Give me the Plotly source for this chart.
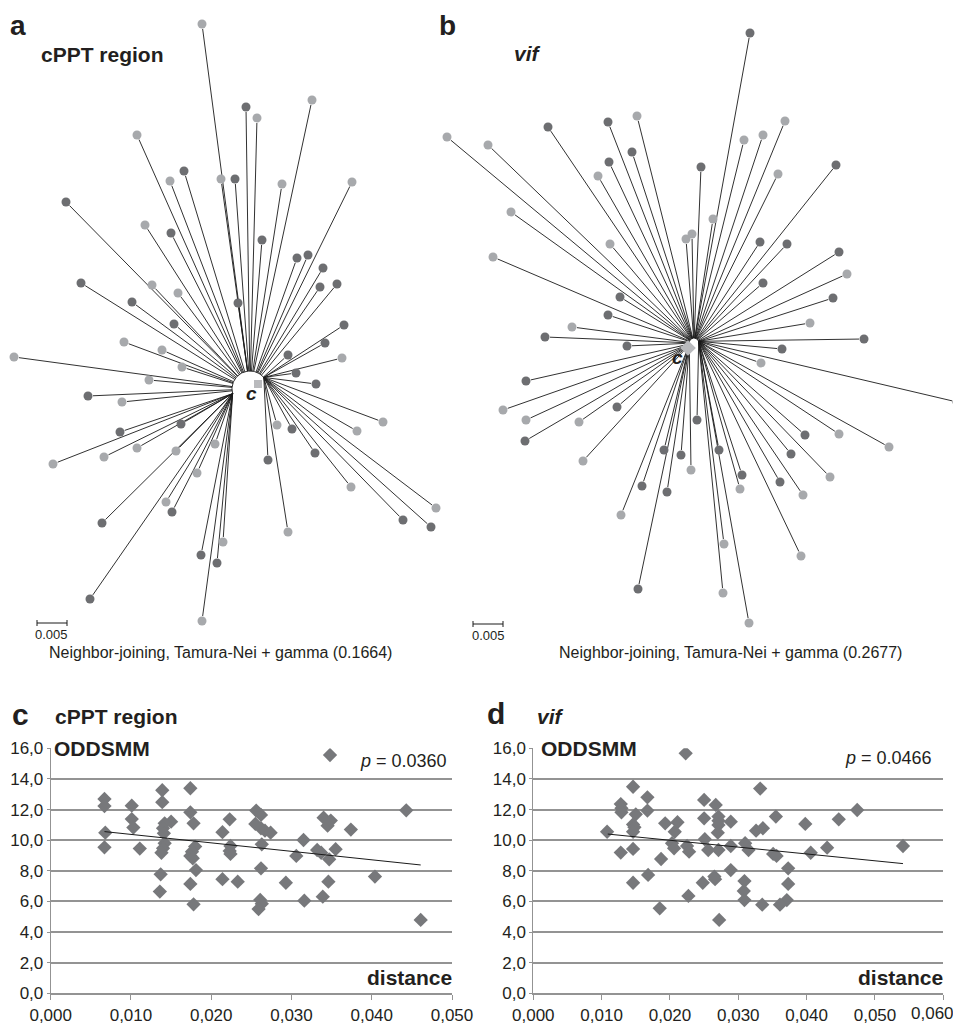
import numpy as np
import plotly.graph_objects as go

# the page body adds an 8 px margin, so the figure is drawn 8 px in from the corner
OFF = 8
W, H = 961, 1023

# ---------------- data ----------------
# Unrooted NJ trees: tip positions in the tree layout space
# (scale bar of 0.005 substitutions/site = 30 layout units)
scale_bar_value = 0.005
layout_units_per_distance = 6000

tree_a_x = [202, 246, 257, 312, 137, 184, 170, 221, 235, 282,
            352, 66, 145, 171, 262, 297, 308, 323, 320, 337,
            81, 152, 178, 132, 238, 174, 344, 124, 162, 325,
            14, 182, 288, 342, 149, 296, 316, 88, 122, 383,
            277, 292, 357, 181, 120, 137, 104, 176, 215, 53,
            315, 268, 197, 351, 166, 172, 436, 403, 431, 102,
            288, 223, 201, 217, 90, 202]
tree_a_y = [24, 107, 118, 100, 135, 171, 181, 179, 179, 184,
            182, 202, 225, 233, 240, 258, 255, 268, 287, 284,
            283, 285, 293, 302, 303, 324, 325, 342, 350, 343,
            357, 367, 355, 358, 380, 373, 384, 396, 402, 422,
            425, 429, 431, 424, 432, 448, 457, 451, 444, 464,
            453, 460, 473, 487, 502, 512, 508, 520, 527, 523,
            532, 542, 555, 563, 599, 621]
tree_a_shade = ("LDLLLDLLDL" "LDLDDDDDDD" "DLLDDDDLLD" "LLDLLDDDLL"
                "LDLDDLLLLL" "DDLLLDLDDD" "LLDDDL")
tree_a_consensus = (258, 384)

tree_b_x = [750, 447, 488, 548, 608, 637, 632, 609, 598, 701,
            744, 763, 785, 836, 778, 511, 610, 493, 713, 686,
            692, 760, 787, 839, 847, 763, 833, 620, 608, 572,
            810, 545, 627, 864, 782, 761, 526, 957, 503, 526,
            617, 579, 697, 525, 805, 839, 889, 664, 681, 719,
            583, 691, 791, 742, 830, 740, 780, 803, 642, 667,
            621, 724, 801, 638, 723, 749]
tree_b_y = [33, 137, 145, 127, 122, 116, 152, 162, 176, 167,
            140, 135, 121, 165, 174, 212, 244, 257, 219, 239,
            234, 242, 244, 252, 274, 283, 298, 297, 315, 327,
            323, 337, 346, 339, 349, 363, 381, 402, 410, 420,
            407, 422, 420, 441, 435, 434, 447, 450, 455, 450,
            461, 470, 454, 475, 477, 489, 482, 495, 486, 492,
            515, 544, 556, 589, 593, 623]
tree_b_shade = ("DLLDDLDDLD" "LLLDLLLLLL" "LDDDLDDDDL" "LDDDDLDDLL"
                "DLDDDLLDDD" "LLDDLLDLDD" "LLLDLL")
tree_b_consensus = (688, 348)

# Scatter c: cPPT region
c_dist = [0.0067, 0.0067, 0.0068, 0.0067, 0.0101, 0.0101, 0.0103, 0.0111, 0.0139, 0.0139,
          0.0150, 0.0142, 0.0140, 0.0141, 0.0142, 0.0140, 0.0138, 0.0137, 0.0136, 0.0174,
          0.0174, 0.0178, 0.0180, 0.0176, 0.0174, 0.0177, 0.0181, 0.0174, 0.0178, 0.0214,
          0.0223, 0.0224, 0.0223, 0.0224, 0.0214, 0.0233, 0.0256, 0.0262, 0.0255, 0.0262,
          0.0267, 0.0274, 0.0263, 0.0262, 0.0261, 0.0263, 0.0259, 0.0293, 0.0306, 0.0315,
          0.0316, 0.0332, 0.0337, 0.0339, 0.0340, 0.0345, 0.0349, 0.0347, 0.0346, 0.0355,
          0.0348, 0.0374, 0.0404, 0.0443, 0.0461]
c_odds = [12.69, 12.23, 10.49, 9.53, 12.25, 11.38, 10.82, 9.45, 13.26, 12.48,
          11.21, 11.10, 10.78, 10.45, 9.80, 9.47, 9.18, 7.77, 6.64, 13.39,
          11.82, 11.10, 9.58, 9.25, 8.97, 8.82, 8.05, 7.14, 5.81, 10.52,
          11.36, 9.62, 9.30, 9.10, 7.45, 7.29, 11.93, 11.65, 11.06, 10.78,
          10.62, 10.49, 9.73, 8.16, 6.10, 5.85, 5.50, 7.22, 8.97, 10.01,
          6.05, 9.36, 9.18, 6.31, 11.47, 10.95, 11.28, 8.75, 7.29, 9.41,
          15.56, 10.69, 7.62, 11.95, 4.79]
c_trend_x = [0.0067, 0.0461]
c_trend_y = [10.56, 8.38]
c_p = "0.0360"

# Scatter d: vif
d_dist = [0.0108, 0.0128, 0.0129, 0.0129, 0.0128, 0.0146, 0.0150, 0.0146, 0.0148, 0.0146,
          0.0146, 0.0146, 0.0167, 0.0167, 0.0168, 0.0187, 0.0185, 0.0193, 0.0211, 0.0207,
          0.0203, 0.0206, 0.0225, 0.0228, 0.0227, 0.0223, 0.0250, 0.0250, 0.0251, 0.0256,
          0.0248, 0.0267, 0.0271, 0.0271, 0.0271, 0.0270, 0.0271, 0.0289, 0.0289, 0.0265,
          0.0266, 0.0289, 0.0272, 0.0310, 0.0315, 0.0309, 0.0308, 0.0309, 0.0326, 0.0336,
          0.0332, 0.0335, 0.0355, 0.0351, 0.0356, 0.0373, 0.0373, 0.0371, 0.0361, 0.0398,
          0.0406, 0.0430, 0.0447, 0.0474, 0.0541]
d_odds = [10.55, 12.36, 12.08, 11.82, 9.19, 13.49, 11.69, 11.03, 10.84, 10.55,
          9.43, 7.22, 12.80, 11.93, 7.73, 8.77, 5.55, 11.10, 11.17, 10.55,
          9.80, 9.47, 9.62, 9.25, 6.36, 15.67, 12.63, 11.43, 10.06, 9.36,
          7.22, 12.30, 11.54, 11.27, 10.99, 10.49, 9.36, 11.21, 9.62, 7.62,
          7.45, 8.05, 4.79, 9.80, 9.36, 7.33, 6.68, 6.09, 10.62, 10.78,
          13.37, 5.79, 11.54, 9.10, 8.97, 8.16, 7.14, 6.09, 5.79, 11.06,
          9.18, 9.51, 11.36, 11.97, 9.62]
d_trend_x = [0.0109, 0.0541]
d_trend_y = [10.40, 8.47]
d_p = "0.0466"

x_ticks_c = [0, 0.01, 0.02, 0.03, 0.04, 0.05]
x_ticks_d = [0, 0.01, 0.02, 0.03, 0.04, 0.05, 0.06]
y_ticks = [0, 2, 4, 6, 8, 10, 12, 14, 16]

# ---------------- style ----------------
FONT = "Liberation Sans"
TXT = "#231f20"
DARK = "#6d6e71"
LIGHT = "#a7a9ac"
DIAM = "#77787b"
GRID = "#939393"


def px(x):
    return (x - OFF) / W


def py(y):
    return 1 - (y - OFF) / H


def fmt3(v):
    return f"{v:.3f}".replace(".", ",")


def tree_traces(xs, ys, shade, cx, cy, r, a_lo, a_hi, gap=5):
    lx, ly = [], []
    for x, y in zip(xs, ys):
        dx, dy = x - cx, cy - y
        th = np.degrees(np.arctan2(dy, dx)) % 360
        if not (a_lo <= th <= a_hi):
            th = a_hi if dx < 0 else a_lo
        ax = cx + r * np.cos(np.radians(th))
        ay = cy - r * np.sin(np.radians(th))
        vx, vy = x - ax, y - ay
        L = np.hypot(vx, vy)
        ex, ey = x - gap * vx / L, y - gap * vy / L
        lx += [ax, ex, None]
        ly += [ay, ey, None]
    ang = np.radians(np.linspace(a_lo, a_hi, 40))
    arcx = list(cx + r * np.cos(ang))
    arcy = list(cy - r * np.sin(ang))
    lines = go.Scatter(x=lx + [None] + arcx, y=ly + [None] + arcy, mode="lines",
                       line=dict(color="#1a1a1a", width=0.9), xaxis="x3", yaxis="y3",
                       hoverinfo="skip", showlegend=False)
    cols = [DARK if s == "D" else LIGHT for s in shade]
    dots = go.Scatter(x=xs, y=ys, mode="markers", xaxis="x3", yaxis="y3",
                      marker=dict(size=9, color=cols, line=dict(width=0)),
                      showlegend=False, cliponaxis=False)
    return [lines, dots]


fig = go.Figure()

for t in tree_traces(tree_a_x, tree_a_y, tree_a_shade, 250, 389, 18, 40, 195):
    fig.add_trace(t)
for t in tree_traces(tree_b_x, tree_b_y, tree_b_shade, 694, 343, 5, 20, 200):
    fig.add_trace(t)

fig.add_trace(go.Scatter(x=[tree_a_consensus[0]], y=[tree_a_consensus[1]], mode="markers",
                         xaxis="x3", yaxis="y3", showlegend=False,
                         marker=dict(symbol="square", size=8, color="#b9babd")))
fig.add_trace(go.Scatter(x=[tree_b_consensus[0]], y=[tree_b_consensus[1]], mode="markers",
                         xaxis="x3", yaxis="y3", showlegend=False,
                         marker=dict(symbol="diamond", size=12, color="#b9babd")))

# scale bars
bar_len = scale_bar_value * layout_units_per_distance
for x0, y0 in [(37, 623), (473, 624)]:
    fig.add_trace(go.Scatter(
        x=[x0, x0, None, x0, x0 + bar_len, None, x0 + bar_len, x0 + bar_len],
        y=[y0 - 3, y0 + 3, None, y0, y0, None, y0 - 3, y0 + 3],
        mode="lines", line=dict(color="#1a1a1a", width=1), xaxis="x3", yaxis="y3",
        showlegend=False, hoverinfo="skip"))

# scatter plots
fig.add_trace(go.Scatter(x=c_dist, y=c_odds, mode="markers", xaxis="x", yaxis="y",
                         marker=dict(symbol="diamond", size=11, color=DIAM), showlegend=False))
fig.add_trace(go.Scatter(x=c_trend_x, y=c_trend_y, mode="lines", xaxis="x", yaxis="y",
                         line=dict(color="#1a1a1a", width=1), showlegend=False))
fig.add_trace(go.Scatter(x=d_dist, y=d_odds, mode="markers", xaxis="x2", yaxis="y2",
                         marker=dict(symbol="diamond", size=11, color=DIAM), showlegend=False))
fig.add_trace(go.Scatter(x=d_trend_x, y=d_trend_y, mode="lines", xaxis="x2", yaxis="y2",
                         line=dict(color="#1a1a1a", width=1), showlegend=False))

ydom = [py(993.3), py(748.3)]
tickfont = dict(family=FONT, size=17, color=TXT)


def xaxis_cfg(dom, rng, ticks, texts, anchor):
    return dict(domain=dom, range=rng, tickvals=ticks, ticktext=texts, ticks="outside",
                ticklen=5, tickcolor=GRID, tickwidth=1, showline=True, linecolor=GRID,
                linewidth=2, showgrid=False, zeroline=False, tickfont=tickfont,
                ticklabeloverflow="allow",
                anchor=anchor, fixedrange=True, automargin=False)


def yaxis_cfg(anchor):
    return dict(domain=ydom, range=[0, 16], tickvals=y_ticks, tickformat=".1f",
                ticks="outside", ticklen=3, tickcolor=GRID, tickwidth=1, showline=True,
                linecolor=GRID, linewidth=1, showgrid=True, gridcolor=GRID, gridwidth=2,
                zeroline=False, tickfont=dict(family=FONT, size=17, color=TXT),
                ticklabeloverflow="allow",
                anchor=anchor, fixedrange=True, automargin=False)


# the last d-label is drawn separately (pulled inside the edge, as in the original)
c_ticktext = [fmt3(v) for v in x_ticks_c]
d_ticktext = [fmt3(v) for v in x_ticks_d[:-1]] + [""]

fig.update_layout(
    width=W, height=H, margin=dict(l=0, r=0, t=0, b=0, autoexpand=False),
    paper_bgcolor="white", plot_bgcolor="white",
    separators=",.",
    showlegend=False,
    font=dict(family=FONT, color=TXT),
    xaxis=xaxis_cfg([px(50.7), px(452)], [0, 0.05], x_ticks_c, c_ticktext, "y"),
    yaxis=yaxis_cfg("x"),
    xaxis2=xaxis_cfg([px(533.3), px(943.3)], [0, 0.06], x_ticks_d, d_ticktext, "y2"),
    yaxis2=yaxis_cfg("x2"),
    xaxis3=dict(domain=[0, 1], range=[OFF, OFF + W], visible=False, fixedrange=True,
                automargin=False),
    yaxis3=dict(domain=[py(660), 1], range=[660, OFF], visible=False, fixedrange=True,
                anchor="x3", automargin=False),
)

ann = []


def add_text(text, x, y, size, xanchor="center", bold=False, italic=False, bg=None,
             yanchor="middle"):
    if italic:
        text = "<i>" + text + "</i>"
    if bold:
        text = "<b>" + text + "</b>"
    d = dict(text=text, x=px(x), y=py(y), xref="paper", yref="paper", xanchor=xanchor,
             yanchor=yanchor, showarrow=False,
             font=dict(family=FONT, size=size, color=TXT))
    if bg:
        d["bgcolor"] = bg
        d["borderpad"] = 0
    ann.append(d)


# tree panels
add_text("a", 18, 8, 28, bold=True, yanchor="top")
add_text("cPPT region", 39, 55, 21, xanchor="left", bold=True)
add_text("b", 447, 8, 28, bold=True, yanchor="top")
add_text("vif", 512, 54, 21, xanchor="left", bold=True, italic=True)
add_text("c", 252, 393, 19, bold=True, italic=True)
add_text("c", 677, 358, 19, bold=True, italic=True)
add_text("0.005", 51, 634, 13)
add_text("0.005", 488, 635, 13)
add_text("Neighbor-joining, Tamura-Nei + gamma (0.1664)", 220, 652, 16)
add_text("Neighbor-joining, Tamura-Nei + gamma (0.2677)", 730, 652, 16)

# scatter panels
add_text("c", 20, 714, 30, bold=True)
add_text("cPPT region", 53, 716, 21, xanchor="left", bold=True)
add_text("d", 496, 713, 30, bold=True)
add_text("vif", 535, 716, 21, xanchor="left", bold=True, italic=True)
add_text("ODDSMM", 53, 748.3, 21, xanchor="left", bold=True, bg="white")
add_text("ODDSMM", 540, 748.3, 21, xanchor="left", bold=True, bg="white")
add_text("<i>p</i> = " + c_p, 449, 761, 18, xanchor="right")
add_text("<i>p</i> = " + d_p, 934, 758, 18, xanchor="right")
add_text("distance", 454, 977, 21, xanchor="right", bold=True)
add_text("distance", 945, 977, 21, xanchor="right", bold=True)
add_text(fmt3(x_ticks_d[-1]), 956, 1013, 17, xanchor="right")

fig.update_layout(annotations=ann)

fig.write_html("out.html")
